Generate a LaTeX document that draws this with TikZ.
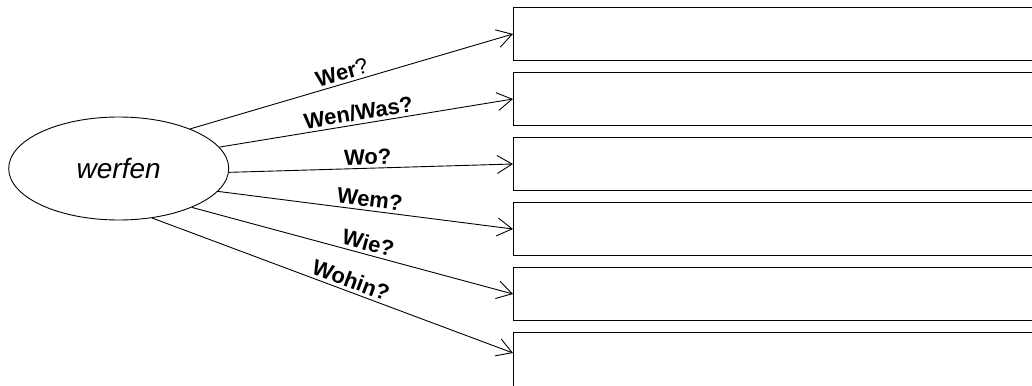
\documentclass[tikz,border=0pt]{standalone}
\usepackage{fontspec}
\setmainfont{Liberation Sans}
\usetikzlibrary{shapes,arrows.meta,chains,positioning}

\begin{document}
\begin{tikzpicture}[%
    x=1pt, y=-1pt,
    start chain=going below,    % answer boxes stacked top to bottom
    node distance=65pt,         % centre to centre of the boxes
    every join/.style={norm},   % default line type for connectors
    ]
% -------------------------------------------------
% Box and connector styles
\tikzset{
  node font=\fontsize{22}{26}\selectfont,
  base/.style={draw, line width=1pt, on grid, on chain},
  ans/.style={base, rectangle, minimum width=560pt, minimum height=53pt, inner sep=0pt},
  verb/.style={draw, ellipse, line width=0.9pt, minimum width=220pt, minimum height=103pt,
    inner sep=0pt, font=\fontsize{28}{32}\selectfont\itshape},
  % connector from the verb to a box
  norm/.style={-{Straight Barb[length=15pt,width=18pt]}, line width=0.9pt, draw},
  % question written along a connector
  ask/.style={midway, above, sloped, inner sep=3pt, font=\fontsize{22}{26}\selectfont\bfseries},
}
\clip (0,0) rectangle (1032,385);
% -------------------------------------------------
% The verb and the answer boxes
\node [verb] (v) at (118.7,168.5) {werfen};
\node [ans, anchor=west] (a1) at (513,34) {};
\node [ans] (a2) {};
\node [ans] (a3) {};
\node [ans] (a4) {};
\node [ans] (a5) {};
% the last box runs past the lower edge
\node [ans, minimum height=61pt, yshift=-4pt] (a6) {};
\coordinate (e6) at ([yshift=10pt]a6.west);
% -------------------------------------------------
% Connectors with their questions
\draw [norm] (v.29)  -- node [ask, pos=0.48] {Wer\mdseries?} (a1.west);
\draw [norm] (v.12)  -- node [ask, pos=0.48] {Wen/Was?} (a2.west);
\draw [norm] (v.-2)  -- node [ask, pos=0.49] {Wo?} (a3.west);
\draw [norm] (v.-13) -- node [ask, pos=0.51] {Wem?} (a4.west);
\draw [norm] (v.-28) -- node [ask, pos=0.54] {Wie?} (a5.west);
\draw [norm] (v.-56) -- node [ask, pos=0.54] {Wohin?} (e6);
% -------------------------------------------------
\end{tikzpicture}
\end{document}
